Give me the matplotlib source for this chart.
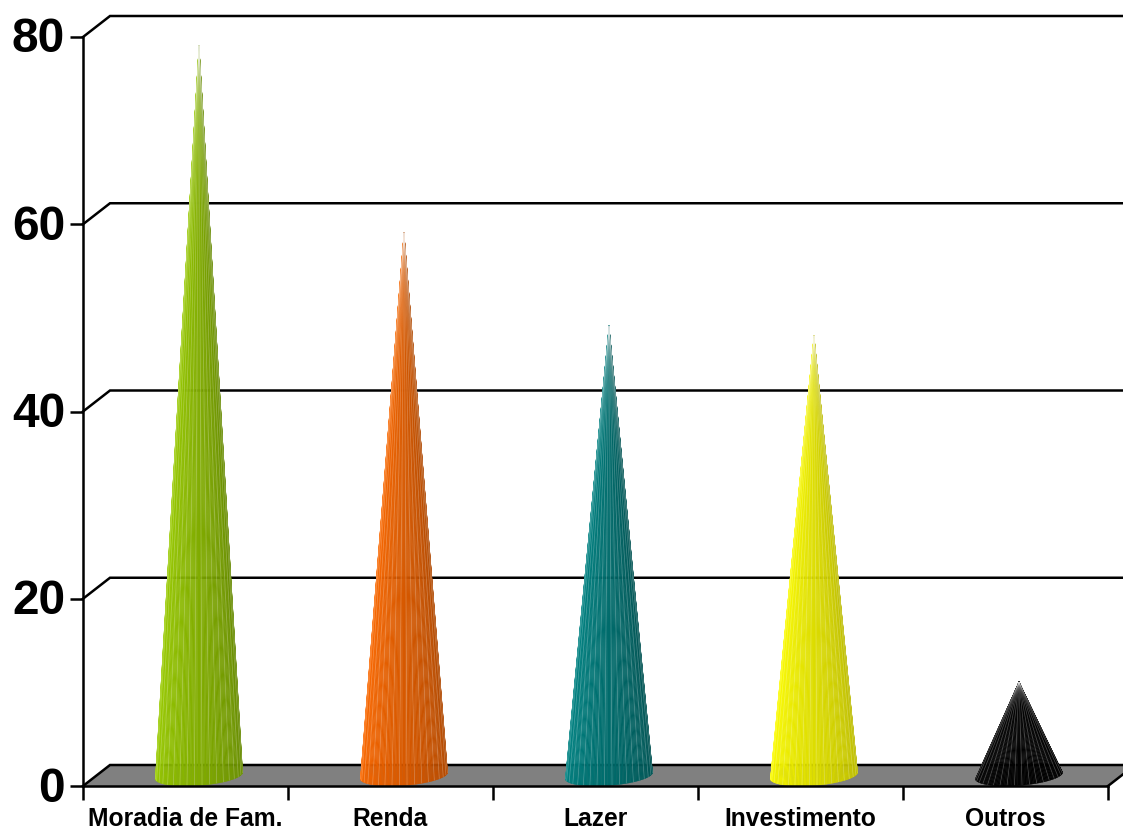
import matplotlib
matplotlib.use('Agg')
import matplotlib.pyplot as plt
from matplotlib.collections import PolyCollection, LineCollection
from matplotlib.patches import Polygon
from matplotlib.transforms import ScaledTranslation
import numpy as np

categories = ['Moradia de Fam.', 'Renda', 'Lazer', 'Investimento', 'Outros']
values = [78, 58, 48, 47, 10]
light_colors = ['#9ccf00', '#ff6a00', '#008585', '#ffff00', '#050505']
dark_colors = ['#668a00', '#b04800', '#005252', '#bcbc00', '#000000']
yticks = [0, 20, 40, 60, 80]

plt.rcParams['font.family'] = ['Liberation Sans', 'DejaVu Sans']

W, H = 1123, 831
fig = plt.figure(figsize=(W / 100, H / 100), dpi=100)
ax = fig.add_axes([83 / W, (H - 786) / H, 1025 / W, 749 / H])
ax.set_xlim(0, 5)
ax.set_ylim(0, 80)

# 3d look: depth of the box in data units
depth_x = 27 / 205
depth_y = 21 / (749 / 80)
lw = 1.8

# floor
ax.add_patch(Polygon([(0, 0), (depth_x, depth_y), (5 + depth_x, depth_y), (5, 0)],
                     facecolor='#808080', edgecolor='none', clip_on=False, zorder=1))

# back wall lines
for v in yticks:
    ax.plot([0, depth_x, 5 + 2 * depth_x], [v, v + depth_y, v + depth_y],
            color='black', lw=lw, clip_on=False, zorder=2, solid_joinstyle='miter')
ax.plot([5, 5 + depth_x], [0, depth_y], color='black', lw=lw, clip_on=False, zorder=2)


def draw_cone(pos, value, light, dark):
    cx = pos + 0.5 + depth_x / 2
    cy = depth_y / 2
    a = 41.5 / 205
    b = depth_x / 2
    t0 = np.arctan2(b, a)
    ts = np.linspace(t0 + np.pi, t0 + 2 * np.pi, 91)
    xs = cx + a * np.cos(ts) + b * np.sin(ts)
    ys = cy + depth_y / 2 * np.sin(ts)
    apex = (cx, cy + value)
    polys = []
    cols = []
    c1 = np.array(matplotlib.colors.to_rgb(light))
    c2 = np.array(matplotlib.colors.to_rgb(dark))
    for i in range(len(ts) - 1):
        polys.append([apex, (xs[i], ys[i]), (xs[i + 1], ys[i + 1])])
        f = i / (len(ts) - 2)
        cols.append(c1 + (c2 - c1) * f)
    ax.add_collection(PolyCollection(polys, facecolors=cols, edgecolors=cols, linewidths=0.3,
                                     clip_on=False, zorder=3))
    # light streaks between the facets
    segs = [[apex, (xs[i], ys[i])] for i in range(2, len(ts) - 2, 5)]
    ax.add_collection(LineCollection(segs, colors='white', linewidths=0.5, alpha=0.28,
                                     clip_on=False, zorder=3.1))


for i, v in enumerate(values):
    draw_cone(i, v, light_colors[i], dark_colors[i])

for side in ['top', 'right']:
    ax.spines[side].set_visible(False)
for side in ['left', 'bottom']:
    ax.spines[side].set_linewidth(lw)
    ax.spines[side].set_zorder(4)

ax.set_yticks(yticks)
ax.set_yticklabels([str(v) for v in yticks], fontsize=34.5, fontweight='bold')
ax.tick_params(axis='y', length=9.4, width=lw, pad=3.5)
up = ScaledTranslation(0, 2 / 100, fig.dpi_scale_trans)
for t in ax.get_yticklabels():
    t.set_transform(t.get_transform() + up)
ax.set_xticks(range(6))
ax.set_xticklabels([''] * 6)
ax.set_xticks(np.arange(5) + 0.5, minor=True)
ax.set_xticklabels(categories, minor=True, fontsize=17.7, fontweight='bold')
ax.tick_params(axis='x', which='major', length=9.8, width=lw)
ax.tick_params(axis='x', which='minor', length=0, pad=15)

fig.savefig('out.png', dpi=100)
